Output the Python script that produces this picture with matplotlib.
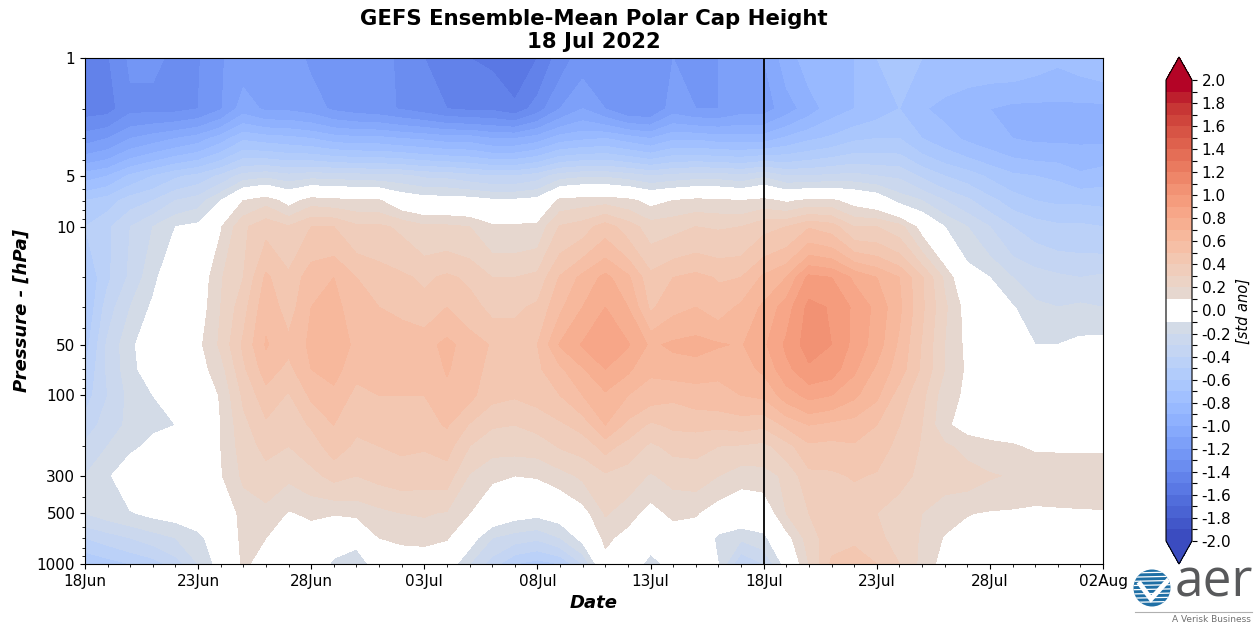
import numpy as np
import matplotlib
matplotlib.use("Agg")
import matplotlib.pyplot as plt
import matplotlib.patches as patches
from matplotlib.colors import ListedColormap

# days since 18 Jun, one column per day
date_labels = ["18Jun", "23Jun", "28Jun", "03Jul", "08Jul", "13Jul", "18Jul", "23Jul", "28Jul", "02Aug"]
days = np.arange(46)
pressure = [1, 2, 3, 5, 7, 10, 20, 30, 50, 70, 100, 150, 200, 300, 500, 700, 1000]
ytick_vals = [1, 5, 10, 50, 100, 300, 500, 1000]

p1 = [-1.42, -1.41, -1.28, -1.28, -1.32, -1.31, -1.21, -1.15, -1.15, -1.15, -1.22, -1.25, -1.25, -1.25, -1.33, -1.4,
      -1.5, -1.5, -1.52, -1.6, -1.5, -1.35, -1.25, -1.25, -1.25, -1.22, -1.2, -1.2, -1.2, -1.15, -1.1,
      -.95, -.85, -.8, -.8, -.7, -.65, -.7, -.73, -.73, -.73, -.72, -.75, -.78, -.75, -.72]
p2 = [-1.45, -1.44, -1.33, -1.33, -1.33, -1.3, -1.21, -1.05, -1.12, -1.12, -1.15, -1.22, -1.25, -1.27, -1.31, -1.35,
      -1.4, -1.42, -1.42, -1.47, -1.35, -1.2, -1.1, -1.2, -1.3, -1.3, -1.15, -1.2, -1.2, -1.15, -1.15,
      -1.05, -.95, -.85, -.8, -.75, -.7, -.79, -.83, -.87, -.9, -.93, -.93, -.93, -.93, -.93]
p3 = [-1.25, -1.2, -1.1, -1.05, -1.0, -.95, -.85, -.72, -.75, -.77, -.8, -.85, -.87, -.87, -.9, -.92,
      -.95, -.95, -1.0, -1.0, -.95, -.85, -.82, -.8, -.85, -.9, -.82, -.82, -.85, -.85, -.85,
      -.78, -.72, -.68, -.62, -.6, -.6, -.7, -.76, -.82, -.86, -.9, -.92, -.92, -.92, -.92]
p5 = [-.85, -.8, -.68, -.6, -.52, -.47, -.38, -.26, -.23, -.27, -.24, -.25, -.26, -.27, -.28, -.32,
      -.33, -.37, -.4, -.4, -.35, -.25, -.22, -.22, -.25, -.3, -.27, -.25, -.25, -.28, -.22,
      -.3, -.3, -.28, -.27, -.3, -.32, -.42, -.5, -.55, -.62, -.68, -.7, -.72, -.78, -.75]
p7 = [-.6, -.55, -.45, -.4, -.3, -.25, -.1, .1, .16, .05, .15, .13, .12, .11, .0, -.04,
      -.04, -.05, -.08, -.08, -.06, .13, .15, .16, .13, .06, .1, .13, .12, .1, .13,
      .08, .12, .12, .05, .0, -.14, -.2, -.3, -.38, -.47, -.55, -.6, -.62, -.62, -.63]
p10 = [-.5, -.42, -.3, -.2, -.1, -.07, .09, .28, .37, .31, .4, .4, .32, .32, .28, .22,
       .22, .2, .12, .12, .13, .31, .35, .45, .35, .25, .27, .3, .29, .3, .37,
       .4, .49, .45, .3, .3, .24, .05, -.1, -.2, -.3, -.4, -.45, -.48, -.48, -.5]
p20 = [-.6, -.42, -.28, -.13, .0, .01, .19, .3, .52, .42, .56, .6, .5, .45, .42, .38,
       .42, .38, .3, .3, .33, .51, .63, .73, .62, .43, .5, .53, .49, .5, .62,
       .7, .93, .9, .78, .7, .6, .41, .18, -.04, -.1, -.2, -.25, -.28, -.3, -.28]
p30 = [-.6, -.35, -.2, -.08, .0, .03, .2, .36, .57, .45, .6, .64, .53, .5, .48, .44,
       .5, .44, .37, .38, .42, .58, .7, .8, .7, .48, .57, .6, .55, .62, .72,
       .85, 1.03, .99, .88, .77, .62, .42, .22, .05, .0, -.09, -.18, -.2, -.18, -.2]
p50 = [-.55, -.28, -.13, .0, .0, .07, .22, .42, .61, .53, .62, .68, .57, .55, .55, .56,
       .63, .55, .49, .46, .5, .71, .81, .88, .81, .68, .72, .74, .71, .69, .78,
       .92, 1.05, 1.0, .87, .75, .58, .39, .2, .07, .05, .0, -.1, -.1, -.07, -.06]
p70 = [-.5, -.28, -.14, -.02, .0, .05, .16, .38, .55, .47, .6, .64, .53, .52, .52, .53,
       .61, .54, .47, .45, .48, .58, .69, .8, .72, .62, .65, .65, .62, .66, .72,
       .87, .98, .95, .82, .68, .55, .38, .2, .08, .03, .02, .02, .02, .02, .02]
p100 = [-.45, -.3, -.17, -.1, -.03, .0, .11, .32, .46, .39, .52, .57, .47, .5, .5, .5,
        .57, .53, .43, .41, .44, .5, .6, .68, .6, .55, .52, .55, .57, .6, .62,
        .75, .83, .8, .72, .62, .45, .33, .14, .08, .03, .03, .03, .03, .03, .03]
p150 = [-.35, -.26, -.17, -.12, -.1, -.03, .1, .27, .38, .35, .41, .5, .42, .45, .45, .46,
        .51, .39, .31, .3, .33, .38, .44, .6, .47, .38, .42, .43, .42, .44, .42,
        .52, .6, .57, .55, .5, .4, .3, .12, .05, .03, .03, .03, .03, .03, .03]
p200 = [-.28, -.2, -.13, -.07, .0, .0, .1, .25, .33, .3, .35, .45, .38, .4, .42, .41,
        .44, .3, .24, .24, .25, .31, .34, .44, .36, .28, .33, .33, .3, .29, .27,
        .36, .48, .47, .49, .45, .37, .29, .22, .16, .13, .11, .08, .08, .08, .08]
p300 = [-.2, -.12, .0, .0, .0, .0, .09, .22, .26, .22, .27, .33, .3, .33, .35, .34,
        .35, .19, .12, .1, .11, .16, .22, .28, .25, .19, .23, .25, .2, .14, .16,
        .22, .37, .38, .41, .39, .34, .27, .24, .25, .21, .19, .19, .18, .18, .17]
p500 = [-.2, -.15, -.11, -.07, -.05, -.03, .0, .14, .17, .09, .12, .11, .13, .17, .2, .21,
        .19, .1, .0, -.05, -.07, -.04, .05, .21, .15, .05, .13, .11, .03, .0, .0,
        .2, .3, .33, .33, .3, .24, .2, .15, .105, .09, .085, .07, .08, .085, .09]
p700 = [-.4, -.35, -.3, -.25, -.2, -.13, -.02, .13, .1, .03, .04, -.04, -.07, .1, .13, .14,
        .11, -.04, -.2, -.25, -.28, -.2, -.06, .13, .05, -.03, .02, .03, -.13, -.18, -.13,
        .05, .25, .36, .38, .33, .25, .19, .09, .06, .05, .05, .05, .05, .05, .05]
p1000 = [-.6, -.55, -.5, -.45, -.35, -.2, -.05, .12, .05, .0, -.02, -.12, -.15, -.05, .0, .0,
         -.02, -.2, -.35, -.5, -.55, -.5, -.3, .05, .0, -.15, -.05, .0, -.1, -.4, -.3,
         -.05, .2, .42, .45, .4, .3, .17, .05, .02, .02, .02, .02, .02, .02, .02]

anom = np.array([p1, p2, p3, p5, p7, p10, p20, p30, p50, p70, p100, p150, p200, p300, p500, p700, p1000])

levels = np.round(np.arange(-2, 2.01, 0.1), 1)

# coolwarm cut in 40 steps, the two bands around zero are blanked
cols = plt.get_cmap("coolwarm")(np.linspace(0, 1, 40))
cols[19] = (1, 1, 1, 1)
cols[20] = (1, 1, 1, 1)
cmap = ListedColormap(cols)
cmap.set_over(cols[-1])
cmap.set_under(cols[0])

fig = plt.figure(figsize=(12.6, 6.25), dpi=100)
W, H = 1260.0, 625.0
ax = fig.add_axes([85 / W, 1 - 564 / H, (1103 - 85) / W, (564 - 58) / H])

cf = ax.contourf(days, pressure, anom, levels=levels, cmap=cmap, extend="both")
ax.axvline(30, color="black", lw=1.3)

ax.set_yscale("log")
ax.set_ylim(1000, 1)
ax.set_yticks(ytick_vals)
ax.set_yticklabels([str(v) for v in ytick_vals], fontsize=11)
ax.yaxis.set_minor_formatter(plt.NullFormatter())
ax.set_xlim(0, 45)
ax.set_xticks(days[::5])
ax.set_xticklabels(date_labels, fontsize=11)
ax.set_xticks(days, minor=True)
ax.set_xlabel("Date", fontsize=13, fontweight="bold", fontstyle="italic", labelpad=4)
ax.set_ylabel("Pressure - [hPa]", fontsize=13, fontweight="bold", fontstyle="italic", labelpad=4)
ax.set_title("GEFS Ensemble-Mean Polar Cap Height\n18 Jul 2022", fontsize=15.3, fontweight="bold",
             pad=7, linespacing=1.2)

# colour bar, the axes box includes the two arrow heads
cax = fig.add_axes([1166 / W, 1 - 564 / H, 26 / W, (564 - 57) / H])
cb = fig.colorbar(cf, cax=cax, extendfrac=0.05, spacing="uniform")
cb.set_ticks(levels)
cb.set_ticklabels([f"{v:.1f}" if round(v * 10) % 2 == 0 else "" for v in levels], fontsize=11)
cb.ax.minorticks_off()
cb.set_label("[std ano]", fontsize=10.5, fontstyle="italic", labelpad=3)

# logo, drawn in pixel coordinates
lg = fig.add_axes([0, 0, 1, 1], zorder=-1)
lg.set_xlim(0, W)
lg.set_ylim(H, 0)
lg.axis("off")
disc = patches.Circle((1152, 588), 18.5, facecolor="#1f6fa5", edgecolor="none")
lg.add_patch(disc)
for yy in np.arange(573, 604, 4.2):
    line, = lg.plot([1130, 1175], [yy, yy - 1], color="white", lw=0.9)
    line.set_clip_path(disc)
check, = lg.plot([1140, 1151, 1170], [584, 599, 578], color="white", lw=3.5, solid_joinstyle="miter")
check.set_clip_path(disc)
lg.text(1214, 583, "aer", fontsize=37, color="#58595b", ha="center", va="center", family="Open Sans")
lg.plot([1135, 1252], [612, 612], color="#b0b0b0", lw=0.8)
lg.text(1251, 619, "A Verisk Business", fontsize=6.5, color="#707070", ha="right", va="center")

fig.savefig("out.png", dpi=100)
